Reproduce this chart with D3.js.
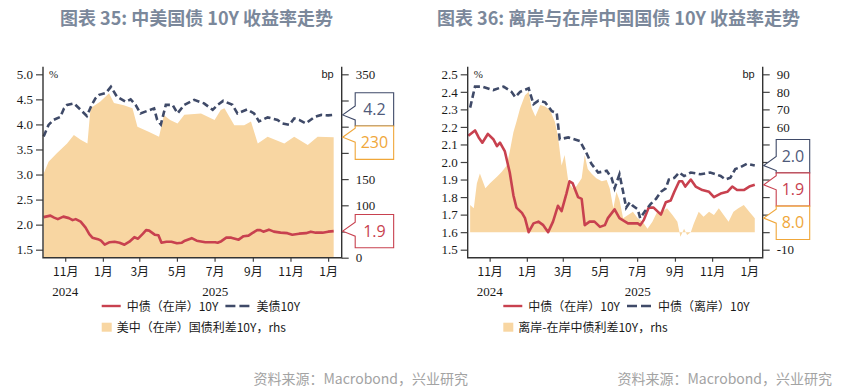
<!doctype html>
<html lang="zh">
<head>
<meta charset="utf-8">
<title>中美国债 10Y 收益率走势</title>
<script src="https://cdn.jsdelivr.net/npm/d3@7"></script>
<style>
  body { margin: 0; background: #fff; }
  svg { display: block; }
  .title { font-family: "Noto Sans CJK SC", "Noto Sans", sans-serif; font-size: 18px; font-weight: 700; fill: #7b889b; }
  .source { font-family: "Noto Sans CJK SC", "Noto Sans", sans-serif; font-size: 14px; fill: #a3a3a3; }
  .legend text { font-family: "Noto Sans CJK SC", sans-serif; font-size: 12px; fill: #1a1a1a; }
  .callout text { font-family: "Open Sans", "Liberation Sans", sans-serif; font-size: 16px; }
  .unit { font-family: "Liberation Sans", Arial, sans-serif; font-size: 11px; fill: #222; }
</style>
</head>
<body>
<svg id="chart" width="850" height="388"></svg>
<script>
// ---- data ----
var monthTicks = ["2024-11-01", "2025-01-01", "2025-03-01", "2025-05-01", "2025-07-01",
                  "2025-09-01", "2025-11-01", "2026-01-01"];
var yearLabels = ["2024", "2025"];
var xStart = "2024-09-26", xEnd = "2026-01-23";

var leftTicks35 = [1.5, 2.0, 2.5, 3.0, 3.5, 4.0, 4.5, 5.0];
var rightTicks35 = [0, 50, 100, 150, 200, 250, 300, 350];
var leftTicks36 = [1.5, 1.6, 1.7, 1.8, 1.9, 2.0, 2.1, 2.2, 2.3, 2.4, 2.5];
var rightTicks36 = [-10, 0, 10, 20, 30, 40, 50, 60, 70, 80, 90];

// 中债(在岸)10Y, %
var cnOnshore = [
  ["2024-09-27", 2.15], ["2024-10-08", 2.18], ["2024-10-14", 2.14], ["2024-10-20", 2.11],
  ["2024-10-29", 2.16], ["2024-11-07", 2.13], ["2024-11-13", 2.09], ["2024-11-18", 2.11],
  ["2024-11-26", 2.06], ["2024-12-04", 1.94], ["2024-12-10", 1.81], ["2024-12-15", 1.74],
  ["2024-12-24", 1.71], ["2024-12-29", 1.68], ["2025-01-04", 1.60], ["2025-01-12", 1.65],
  ["2025-01-20", 1.66], ["2025-01-28", 1.64], ["2025-02-05", 1.60], ["2025-02-13", 1.66],
  ["2025-02-21", 1.75], ["2025-02-27", 1.72], ["2025-03-07", 1.82], ["2025-03-12", 1.89],
  ["2025-03-17", 1.88], ["2025-03-26", 1.80], ["2025-04-01", 1.79], ["2025-04-06", 1.64],
  ["2025-04-14", 1.66], ["2025-04-22", 1.66], ["2025-05-01", 1.63], ["2025-05-09", 1.64],
  ["2025-05-14", 1.68], ["2025-05-25", 1.73], ["2025-06-02", 1.68], ["2025-06-16", 1.65],
  ["2025-07-02", 1.65], ["2025-07-06", 1.64], ["2025-07-12", 1.67], ["2025-07-20", 1.74],
  ["2025-07-28", 1.74], ["2025-08-09", 1.70], ["2025-08-17", 1.77], ["2025-08-25", 1.78],
  ["2025-08-31", 1.83], ["2025-09-08", 1.89], ["2025-09-13", 1.89], ["2025-09-18", 1.86],
  ["2025-09-27", 1.90], ["2025-10-05", 1.86], ["2025-10-16", 1.84], ["2025-10-27", 1.83],
  ["2025-11-04", 1.80], ["2025-11-15", 1.82], ["2025-11-26", 1.83], ["2025-12-04", 1.86],
  ["2025-12-12", 1.84], ["2025-12-23", 1.84], ["2026-01-01", 1.86], ["2026-01-10", 1.87]
];

// 美债10Y, %
var us10y = [
  ["2024-09-27", 3.76], ["2024-10-05", 3.99], ["2024-10-13", 4.09], ["2024-10-24", 4.15],
  ["2024-10-30", 4.32], ["2024-11-04", 4.39], ["2024-11-15", 4.42], ["2024-11-26", 4.29],
  ["2024-12-06", 4.17], ["2024-12-14", 4.39], ["2024-12-20", 4.52], ["2024-12-26", 4.59],
  ["2025-01-06", 4.63], ["2025-01-14", 4.75], ["2025-01-24", 4.55], ["2025-02-07", 4.45],
  ["2025-02-15", 4.50], ["2025-02-23", 4.39], ["2025-03-03", 4.22], ["2025-03-14", 4.27],
  ["2025-03-25", 4.32], ["2025-03-30", 4.09], ["2025-04-05", 4.00], ["2025-04-13", 4.39],
  ["2025-04-24", 4.39], ["2025-05-02", 4.22], ["2025-05-13", 4.39], ["2025-05-29", 4.49],
  ["2025-06-14", 4.42], ["2025-06-28", 4.29], ["2025-07-06", 4.39], ["2025-07-15", 4.47],
  ["2025-07-30", 4.39], ["2025-08-07", 4.22], ["2025-08-23", 4.30], ["2025-09-03", 4.22],
  ["2025-09-11", 4.06], ["2025-09-25", 4.14], ["2025-10-11", 4.09], ["2025-10-19", 4.02],
  ["2025-10-30", 3.99], ["2025-11-07", 4.12], ["2025-11-15", 4.09], ["2025-11-26", 4.02],
  ["2025-12-10", 4.15], ["2025-12-21", 4.19], ["2026-01-01", 4.18], ["2026-01-10", 4.19]
];

// 美中(在岸)国债利差10Y, bp
var usCnSpread = [
  ["2024-09-27", 160], ["2024-10-05", 183], ["2024-10-18", 199], ["2024-11-04", 218],
  ["2024-11-15", 234], ["2024-11-26", 225], ["2024-12-07", 218], ["2024-12-12", 285],
  ["2024-12-28", 298], ["2025-01-11", 314], ["2025-01-19", 295], ["2025-02-04", 291],
  ["2025-02-18", 285], ["2025-02-26", 250], ["2025-03-17", 240], ["2025-04-02", 231],
  ["2025-04-10", 272], ["2025-04-20", 263], ["2025-05-02", 256], ["2025-05-13", 273],
  ["2025-06-09", 275], ["2025-07-01", 263], ["2025-07-11", 282], ["2025-07-17", 285],
  ["2025-08-02", 253], ["2025-08-18", 253], ["2025-08-29", 260], ["2025-09-09", 218],
  ["2025-09-25", 231], ["2025-10-22", 218], ["2025-11-07", 231], ["2025-11-29", 215],
  ["2025-12-15", 231], ["2026-01-10", 230]
];

// 中债(离岸)10Y, %
var cnOffshore = [
  ["2024-09-30", 2.31], ["2024-10-08", 2.43], ["2024-10-20", 2.43], ["2024-11-07", 2.41],
  ["2024-11-24", 2.43], ["2024-12-07", 2.40], ["2024-12-13", 2.37], ["2024-12-21", 2.40],
  ["2025-01-04", 2.42], ["2025-01-12", 2.33], ["2025-01-20", 2.35], ["2025-01-31", 2.34],
  ["2025-02-11", 2.29], ["2025-02-19", 2.28], ["2025-02-24", 2.13], ["2025-03-10", 2.14],
  ["2025-03-29", 2.12], ["2025-04-09", 2.05], ["2025-04-17", 1.99], ["2025-04-28", 1.94],
  ["2025-05-12", 1.95], ["2025-05-20", 1.91], ["2025-05-25", 1.85], ["2025-06-02", 1.93],
  ["2025-06-08", 1.83], ["2025-06-13", 1.74], ["2025-06-19", 1.77], ["2025-06-24", 1.75],
  ["2025-07-02", 1.73], ["2025-07-06", 1.68], ["2025-07-14", 1.72], ["2025-07-23", 1.76],
  ["2025-08-01", 1.79], ["2025-08-09", 1.83], ["2025-08-17", 1.85], ["2025-08-22", 1.90],
  ["2025-08-31", 1.91], ["2025-09-08", 1.94], ["2025-09-16", 1.92], ["2025-09-27", 1.94],
  ["2025-10-13", 1.93], ["2025-10-29", 1.94], ["2025-11-07", 1.93], ["2025-11-15", 1.92],
  ["2025-11-23", 1.90], ["2025-12-01", 1.91], ["2025-12-09", 1.96], ["2025-12-17", 1.97],
  ["2025-12-28", 1.99], ["2026-01-10", 1.98]
];

// 离岸-在岸中债利差10Y, bp
var offOnSpread = [
  ["2024-09-30", 15.5], ["2024-10-06", 13.6], ["2024-10-11", 27.8], ["2024-10-16", 33.5],
  ["2024-10-25", 25], ["2024-11-02", 28], ["2024-11-13", 31.6], ["2024-11-21", 34.5],
  ["2024-11-29", 38], ["2024-12-04", 46], ["2024-12-10", 57], ["2024-12-15", 63],
  ["2024-12-21", 70.6], ["2024-12-29", 78], ["2025-01-04", 80], ["2025-01-09", 70.6],
  ["2025-01-15", 66], ["2025-01-23", 72.5], ["2025-01-31", 71.6], ["2025-02-08", 69.7],
  ["2025-02-16", 63], ["2025-02-21", 55], ["2025-02-27", 38], ["2025-03-04", 44],
  ["2025-03-10", 29], ["2025-03-17", 25], ["2025-03-23", 26], ["2025-04-01", 30.7],
  ["2025-04-06", 44], ["2025-04-11", 36], ["2025-04-17", 33.5], ["2025-04-25", 30.7],
  ["2025-05-04", 29], ["2025-05-12", 29.7], ["2025-05-17", 25], ["2025-05-23", 13.6],
  ["2025-05-28", 23], ["2025-06-02", 18.3], ["2025-06-08", 8], ["2025-06-16", 9.8],
  ["2025-06-24", 11.7], ["2025-07-02", 8], ["2025-07-10", 6], ["2025-07-18", 2],
  ["2025-07-26", 6], ["2025-08-03", 11.7], ["2025-08-11", 11.7], ["2025-08-19", 13.6],
  ["2025-08-28", 9.8], ["2025-09-05", 6], ["2025-09-10", -2.6], ["2025-09-16", 2],
  ["2025-09-21", -1.6], ["2025-09-27", 0], ["2025-10-02", 5], ["2025-10-10", 11.7],
  ["2025-10-18", 8.8], ["2025-10-27", 11.7], ["2025-11-04", 9.8], ["2025-11-12", 13.6],
  ["2025-11-20", 9.8], ["2025-11-28", 6], ["2025-12-06", 11.7], ["2025-12-14", 13.6],
  ["2025-12-23", 15.5], ["2026-01-01", 11.7], ["2026-01-10", 8]
];

// ---- drawing ----
var RED = "#c8414f", NAVY = "#3f4a68", AREA = "#f8d6a2", ORANGE = "#f0a73a";
var parse = d3.utcParse("%Y-%m-%d");
var rows = function(a) { return a.map(function(d) { return { date: parse(d[0]), value: d[1] }; }); };

var svg = d3.select("#chart");

function drawPanel(cfg) {
  var g = svg.append("g");
  var x = d3.scaleUtc().domain([parse(xStart), parse(xEnd)]).range([cfg.x0, cfg.x1]);
  var yL = d3.scaleLinear().domain(d3.extent(cfg.leftTicks)).range([249.7, 74.3]);
  var yR = d3.scaleLinear().domain(d3.extent(cfg.rightTicks)).range(cfg.rightRange);

  var spread = rows(cfg.spread), solid = rows(cfg.solid), dashed = rows(cfg.dashed);

  g.append("path").datum(spread)
    .attr("fill", AREA)
    .attr("d", d3.area().x(function(d) { return x(d.date); })
      .y0(yR(0)).y1(function(d) { return yR(d.value); }));

  var line = d3.line().x(function(d) { return x(d.date); }).y(function(d) { return yL(d.value); });
  g.append("path").datum(solid).attr("fill", "none").attr("stroke", RED)
    .attr("stroke-width", 2.6).attr("stroke-linejoin", "round").attr("d", line);
  g.append("path").datum(dashed).attr("fill", "none").attr("stroke", NAVY)
    .attr("stroke-width", 2.6).attr("stroke-dasharray", "6.5,3.5").attr("d", line);

  // axes
  var styleAxis = function(s) {
    s.select(".domain").remove();
    s.selectAll(".tick line").attr("stroke", "#444").attr("stroke-width", 1.2);
    s.selectAll(".tick text").attr("fill", "#1a1a1a")
      .style("font-family", '"Liberation Serif", "DejaVu Serif", serif').style("font-size", "13px");
  };
  g.append("g").attr("transform", "translate(" + cfg.x0 + ",0)")
    .call(d3.axisLeft(yL).tickValues(cfg.leftTicks).tickFormat(d3.format(".1f"))
      .tickSize(7).tickPadding(3))
    .call(styleAxis);
  var rightAxis = g.append("g").attr("transform", "translate(" + cfg.x1 + ",0)")
    .call(d3.axisRight(yR).tickValues(cfg.rightTicks).tickFormat(function(d) { return String(d); })
      .tickSize(7).tickPadding(7))
    .call(styleAxis);

  var tickDates = monthTicks.map(parse);
  g.append("g").attr("transform", "translate(0,257.7)")
    .call(d3.axisBottom(x).tickValues(tickDates).tickFormat(d3.utcFormat("%-m月"))
      .tickSize(4).tickPadding(6))
    .call(styleAxis)
    .call(function(s) {
      s.selectAll(".tick text").style("font-family", '"Noto Sans CJK SC", sans-serif').style("font-size", "12px");
    });

  // axis lines
  g.append("path").attr("fill", "none").attr("stroke", "#333").attr("stroke-width", 1.4)
    .attr("d", "M" + cfg.x0 + ",66.7V257.7H" + cfg.x1 + "V66.7");

  // year labels under the month ticks
  yearLabels.forEach(function(yr) {
    var inYear = tickDates.filter(function(d) { return d.getUTCFullYear() === +yr; });
    var mid = Date.UTC(+yr, 6, 2);
    mid = Math.max(d3.min(inYear), Math.min(d3.max(inYear), mid));
    g.append("text").attr("x", x(new Date(mid))).attr("y", 295.5).attr("text-anchor", "middle")
      .style("font-family", '"Liberation Serif", serif').style("font-size", "13px").attr("fill", "#1a1a1a")
      .text(yr);
  });

  g.append("text").attr("class", "unit").attr("x", cfg.x0 + 6).attr("y", 78)
    .style("font-family", '"Liberation Serif", serif').text("%");
  g.append("text").attr("class", "unit").attr("x", cfg.x1 - 8).attr("y", 78)
    .attr("text-anchor", "end").text("bp");

  // callouts at the right axis
  var last = function(a) { return a[a.length - 1].value; };
  var items = [
    { tip: yL(last(dashed)), label: last(dashed).toFixed(1), color: NAVY, text: "#4f5a7a" },
    { tip: yR(last(spread)), label: last(spread).toFixed(cfg.spreadDigits), color: ORANGE, text: ORANGE },
    { tip: yL(last(solid)), label: last(solid).toFixed(1), color: RED, text: RED }
  ].sort(function(a, b) { return a.tip - b.tip; });

  var bh = 33.3;
  var groups = items.map(function(d) { return { members: [d], top: d.tip - bh / 2 }; });
  var merged = true;
  while (merged) {
    merged = false;
    for (var i = 1; i < groups.length; i++) {
      var a = groups[i - 1], b = groups[i];
      if (a.top + a.members.length * bh > b.top) {
        var m = a.members.concat(b.members);
        groups.splice(i - 1, 2, { members: m, top: d3.mean(m, function(d) { return d.tip; }) - m.length * bh / 2 });
        merged = true;
        break;
      }
    }
  }
  groups.forEach(function(gr) { gr.members.forEach(function(d, k) { d.top = gr.top + k * bh; }); });

  // right-axis numbers that sit behind a callout box are not shown
  rightAxis.selectAll(".tick text").style("display", function(v) {
    var y = yR(v);
    return items.some(function(d) { return y >= d.top - 3 && y <= d.top + bh + 3; }) ? "none" : null;
  });

  var co = g.append("g").attr("class", "callout");
  var labels = items.map(function(d) {
    return co.append("text").attr("text-anchor", "middle").attr("fill", d.text).text(d.label);
  });
  var bw = d3.max(labels, function(t) { return t.node().getComputedTextLength(); }) + 11;
  var bx = cfg.x1 + 13.5, tx = cfg.x1 + 1;
  items.forEach(function(d, k) {
    var top = d.top, bot = d.top + bh;
    var n1 = Math.max(top, d.tip - 9), n2 = Math.min(bot, d.tip + 5);
    co.insert("path", "text")
      .attr("fill", "#fff").attr("stroke", d.color).attr("stroke-width", 1.1)
      .attr("d", "M" + bx + "," + top + "H" + (bx + bw) + "V" + bot + "H" + bx +
        "V" + n2 + "L" + tx + "," + d.tip + "L" + bx + "," + n1 + "Z");
    labels[k].attr("x", bx + bw / 2).attr("y", top + bh / 2 + 5.5);
  });

  // legend
  var lg = g.append("g").attr("class", "legend");
  var cx = cfg.legendX;
  lg.append("line").attr("x1", cx).attr("x2", cx + 19).attr("y1", 306).attr("y2", 306)
    .attr("stroke", RED).attr("stroke-width", 2.4);
  var t1 = lg.append("text").attr("x", cx + 25).attr("y", 310.5).text(cfg.solidName);
  cx = cx + 25 + t1.node().getComputedTextLength() + 7;
  lg.append("line").attr("x1", cx).attr("x2", cx + 24).attr("y1", 306).attr("y2", 306)
    .attr("stroke", NAVY).attr("stroke-width", 2.6).attr("stroke-dasharray", "10,4");
  lg.append("text").attr("x", cx + 31).attr("y", 310.5).text(cfg.dashedName);
  lg.append("rect").attr("x", cfg.legendX).attr("y", 322.7).attr("width", 10).attr("height", 9)
    .attr("fill", AREA);
  lg.append("text").attr("x", cfg.legendX + 15).attr("y", 331.5).text(cfg.spreadName);

  svg.append("text").attr("class", "title").attr("x", cfg.titleX).attr("y", 25).text(cfg.title);
  svg.append("text").attr("class", "source").attr("x", cfg.sourceX).attr("y", 384)
    .attr("text-anchor", "end").text("资料来源：Macrobond，兴业研究");
}

drawPanel({
  x0: 43, x1: 341.7,
  leftTicks: leftTicks35, rightTicks: rightTicks35, rightRange: [257.7, 74.3],
  solid: cnOnshore, dashed: us10y, spread: usCnSpread, spreadDigits: 0,
  solidName: "中债（在岸）10Y", dashedName: "美债10Y", spreadName: "美中（在岸）国债利差10Y，rhs",
  legendX: 101.7, title: "图表 35: 中美国债 10Y 收益率走势", titleX: 60, sourceX: 468
});
drawPanel({
  x0: 467.7, x1: 762.7,
  leftTicks: leftTicks36, rightTicks: rightTicks36, rightRange: [249.7, 74.3],
  solid: cnOnshore, dashed: cnOffshore, spread: offOnSpread, spreadDigits: 1,
  solidName: "中债（在岸）10Y", dashedName: "中债（离岸）10Y", spreadName: "离岸-在岸中债利差10Y，rhs",
  legendX: 503.3, title: "图表 36: 离岸与在岸中国国债 10Y 收益率走势", titleX: 437, sourceX: 832
});
</script>
</body>
</html>
